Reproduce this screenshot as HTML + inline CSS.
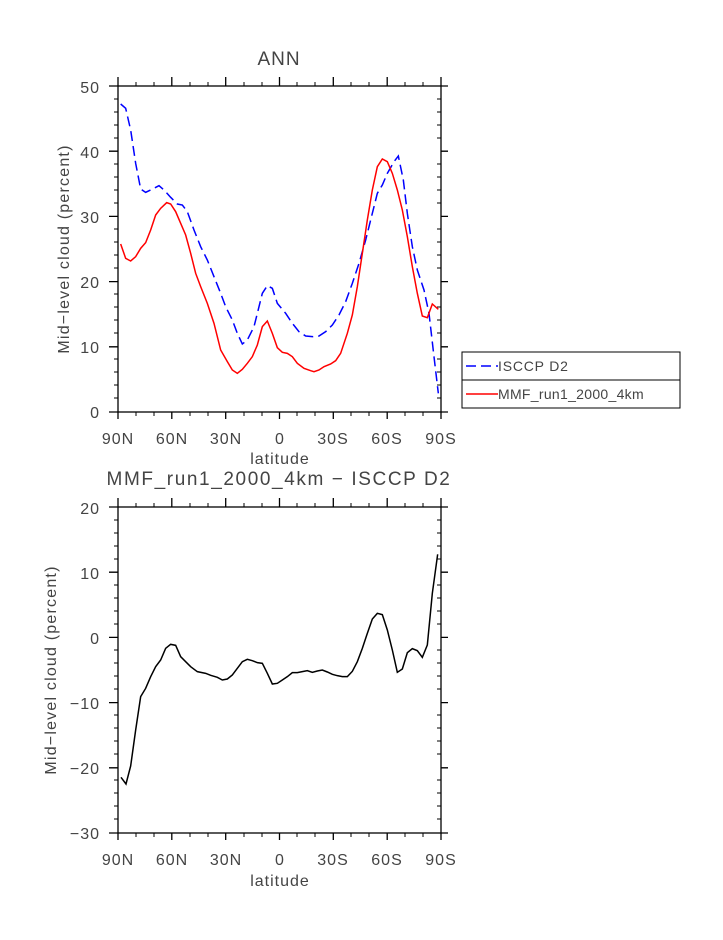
<!DOCTYPE html>
<html><head><style>
html,body{margin:0;padding:0;background:#fff;}
svg text{font-family:"Liberation Sans","DejaVu Sans",sans-serif;fill:#444;}
</style></head><body>
<svg width="723" height="935" viewBox="0 0 723 935" xmlns="http://www.w3.org/2000/svg">
<rect width="723" height="935" fill="#fff"/>
<!-- Top plot -->
<text x="279" y="65" font-size="19" text-anchor="middle" letter-spacing="1">ANN</text>
<g stroke="#000" stroke-width="1.3" fill="none">
<rect x="118" y="86" width="323" height="326"/>
<path d="M118,86h-9M118,151.2h-9M118,216.4h-9M118,281.6h-9M118,346.8h-9M118,412h-9
M441,86h7M441,151.2h7M441,216.4h7M441,281.6h7M441,346.8h7M441,412h7
M118,412v7M171.8,412v7M225.7,412v7M279.5,412v7M333.3,412v7M387.2,412v7M441,412v7
M118,86v-9M171.8,86v-9M225.7,86v-9M279.5,86v-9M333.3,86v-9M387.2,86v-9M441,86v-9"/>
<path stroke-width="1" d="M118,99h-4M118,112h-4M118,125h-4M118,138h-4M118,164h-4M118,177h-4M118,190h-4M118,203h-4M118,229h-4M118,242h-4M118,255h-4M118,268h-4M118,294h-4M118,307h-4M118,320h-4M118,333h-4M118,359h-4M118,372h-4M118,385h-4M118,398h-4
M441,99h-4M441,112h-4M441,125h-4M441,138h-4M441,164h-4M441,177h-4M441,190h-4M441,203h-4M441,229h-4M441,242h-4M441,255h-4M441,268h-4M441,294h-4M441,307h-4M441,320h-4M441,333h-4M441,359h-4M441,372h-4M441,385h-4M441,398h-4
M136,86v-4M154,86v-4M190,86v-4M208,86v-4M244,86v-4M262,86v-4M297,86v-4M315,86v-4M351,86v-4M369,86v-4M405,86v-4M423,86v-4
M136,412v4M154,412v4M190,412v4M208,412v4M244,412v4M262,412v4M297,412v4M315,412v4M351,412v4M369,412v4M405,412v4M423,412v4"/>
</g>
<g font-size="16" text-anchor="end" letter-spacing="1">
<text x="100" y="93">50</text><text x="100" y="158">40</text><text x="100" y="223">30</text><text x="100" y="288">20</text><text x="100" y="353">10</text><text x="100" y="418">0</text>
</g>
<g font-size="16" text-anchor="middle" letter-spacing="1">
<text x="118" y="444">90N</text><text x="172" y="444">60N</text><text x="226" y="444">30N</text><text x="280" y="444">0</text><text x="333" y="444">30S</text><text x="387" y="444">60S</text><text x="441" y="444">90S</text>
<text x="280" y="464">latitude</text>
</g>
<text font-size="16" letter-spacing="1.2" text-anchor="middle" transform="translate(69,249) rotate(-90)">Mid−level cloud  (percent)</text>
<g transform="translate(60,40) scale(0.33333)" fill="none">
<polyline stroke="#00f" stroke-width="4.5" stroke-dasharray="30,15" points="182,192 197,205 212,270 227,370 242,447 257,457 272,450 297,437 312,450 332,472 352,492 367,495 382,515 402,570 422,620 442,660 462,710 482,760 497,800 517,840 532,880 547,912 562,900 582,860 597,800 607,760 622,737 637,745 652,790 677,820 697,850 717,875 737,888 757,890 777,888 797,875 817,855 837,825 857,785 877,730 897,670 917,600 937,520 952,460 967,435 982,400 1002,365 1015,348 1030,420 1042,520 1057,620 1072,690 1092,750 1107,820 1122,950 1135,1060"/>
<polyline stroke="#f00" stroke-width="4.5" points="182,612 197,655 212,663 227,650 242,625 257,608 272,570 287,525 302,505 320,488 332,492 347,515 362,550 377,585 392,640 407,700 422,740 442,790 462,850 482,930 502,965 517,990 532,1000 547,988 562,970 577,950 592,915 607,860 622,843 637,880 652,923 667,937 682,940 697,950 712,970 732,985 752,992 762,995 777,990 792,980 812,972 827,962 842,940 862,880 877,825 892,740 907,640 922,540 937,450 952,380 967,357 982,365 997,400 1012,450 1027,510 1042,590 1057,680 1072,760 1087,828 1102,833 1117,792 1135,808"/>
</g>
<!-- Legend -->
<rect x="462" y="352" width="218" height="56" fill="none" stroke="#000" stroke-width="1"/>
<line x1="462" y1="380" x2="680" y2="380" stroke="#000" stroke-width="1"/>
<line x1="466" y1="366" x2="498" y2="366" stroke="#00f" stroke-width="1.5" stroke-dasharray="10,5"/>
<line x1="466" y1="394" x2="498" y2="394" stroke="#f00" stroke-width="1.5"/>
<text x="498" y="371" font-size="14" letter-spacing="0.8">ISCCP D2</text>
<text x="498" y="399" font-size="14" letter-spacing="0.3">MMF_run1_2000_4km</text>
<!-- Bottom plot -->
<text x="279" y="485" font-size="19" letter-spacing="1.6" text-anchor="middle">MMF_run1_2000_4km  −  ISCCP D2</text>
<g stroke="#000" stroke-width="1.3" fill="none">
<rect x="118" y="507" width="323" height="326"/>
<path d="M118,507h-9M118,572.2h-9M118,637.4h-9M118,702.6h-9M118,767.8h-9M118,833h-9
M441,507h7M441,572.2h7M441,637.4h7M441,702.6h7M441,767.8h7M441,833h7
M118,833v7M171.8,833v7M225.7,833v7M279.5,833v7M333.3,833v7M387.2,833v7M441,833v7
M118,507v-9M171.8,507v-9M225.7,507v-9M279.5,507v-9M333.3,507v-9M387.2,507v-9M441,507v-9"/>
<path stroke-width="1" d="M118,520h-4M118,533h-4M118,546h-4M118,559h-4M118,585h-4M118,598h-4M118,611h-4M118,624h-4M118,650h-4M118,663h-4M118,676h-4M118,689h-4M118,715h-4M118,728h-4M118,741h-4M118,754h-4M118,780h-4M118,793h-4M118,806h-4M118,819h-4
M441,520h-4M441,533h-4M441,546h-4M441,559h-4M441,585h-4M441,598h-4M441,611h-4M441,624h-4M441,650h-4M441,663h-4M441,676h-4M441,689h-4M441,715h-4M441,728h-4M441,741h-4M441,754h-4M441,780h-4M441,793h-4M441,806h-4M441,819h-4
M136,507v-4M154,507v-4M190,507v-4M208,507v-4M244,507v-4M262,507v-4M297,507v-4M315,507v-4M351,507v-4M369,507v-4M405,507v-4M423,507v-4
M136,833v4M154,833v4M190,833v4M208,833v4M244,833v4M262,833v4M297,833v4M315,833v4M351,833v4M369,833v4M405,833v4M423,833v4"/>
</g>
<g font-size="16" text-anchor="end" letter-spacing="1">
<text x="100" y="514">20</text><text x="100" y="579">10</text><text x="100" y="644">0</text><text x="100" y="709">−10</text><text x="100" y="774">−20</text><text x="100" y="839">−30</text>
</g>
<g font-size="16" text-anchor="middle" letter-spacing="1">
<text x="118" y="865">90N</text><text x="172" y="865">60N</text><text x="226" y="865">30N</text><text x="280" y="865">0</text><text x="333" y="865">30S</text><text x="387" y="865">60S</text><text x="441" y="865">90S</text>
<text x="280" y="886">latitude</text>
</g>
<text font-size="16" letter-spacing="1.2" text-anchor="middle" transform="translate(56,670) rotate(-90)">Mid−level cloud  (percent)</text>
<g transform="translate(40,460) scale(0.33333)" fill="none">
<polyline stroke="#000" stroke-width="4.5" points="243,952 258,972 272,918 287,810 302,710 317,685 332,650 347,620 362,600 377,565 392,553 407,556 422,590 437,605 452,620 472,635 497,640 512,646 532,652 547,660 562,657 577,645 592,625 607,605 622,598 637,602 652,608 667,610 682,640 697,672 712,670 727,660 742,650 757,638 772,638 787,635 802,632 817,637 832,633 847,630 862,636 877,643 892,647 907,650 922,650 937,634 952,605 967,565 982,520 997,477 1012,460 1027,464 1042,510 1057,570 1072,637 1087,627 1102,578 1117,566 1132,572 1147,592 1162,555 1177,400 1193,283"/>
</g>
</svg>
</body></html>
